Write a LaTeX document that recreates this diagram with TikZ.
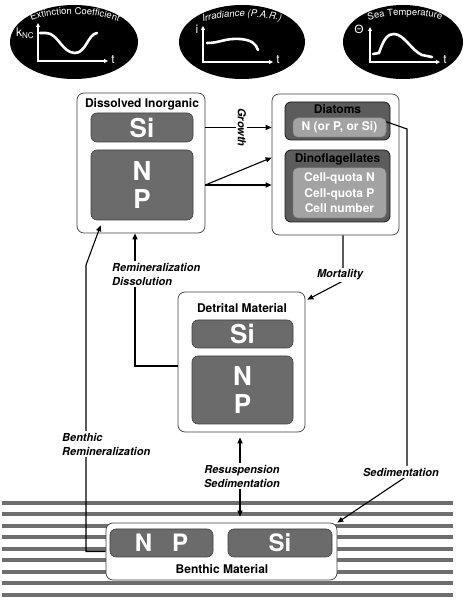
\documentclass[tikz,border=0pt]{standalone}
\usepackage{fontspec}
\setmainfont{TeX Gyre Heros}
\newfontfamily\dgGreek{Liberation Sans}
\usetikzlibrary{arrows.meta,decorations.text,calc}
\definecolor{nutgray}{HTML}{6B6B6B}
\definecolor{phygray}{HTML}{5C5C5C}
\definecolor{ingray}{HTML}{A3A3A3}
\definecolor{stripegray}{HTML}{6E6E6E}
\newcommand\dgTitle{\bfseries\fontsize{12}{15.5}\selectfont}
\newcommand\dgNut{\bfseries\fontsize{26}{28}\selectfont}
\newcommand\dgNutS{\bfseries\fontsize{24}{28}\selectfont}
\newcommand\dgLab{\bfseries\itshape\fontsize{11}{14}\selectfont}
\newcommand\dgAx{\fontsize{12}{12}\selectfont}
\newcommand\dgEll{\fontsize{9.5}{9.5}\selectfont}
\begin{document}
\begin{tikzpicture}[x=1pt,y=1pt,
  outerbox/.style={draw=black!75, line width=0.7pt, fill=white, rounded corners=7pt, inner sep=0pt},
  nutbox/.style={draw=black!75, line width=0.6pt, fill=nutgray, rounded corners=6pt, inner sep=0pt, text=white, font=\dgNut, align=center},
  phybox/.style={draw=black!90, line width=0.8pt, fill=phygray, rounded corners=6pt, inner sep=0pt},
  inbox/.style={draw=black!45, line width=0.5pt, fill=ingray, rounded corners=5pt, inner sep=0pt, text=white, font=\dgTitle, align=center},
  ttl/.style={font=\dgTitle, inner sep=0pt},
  flow/.style={line width=1.1pt, -{Triangle[length=6pt,width=5pt]}},
  flowlab/.style={font=\dgLab, fill=white, inner sep=1.5pt, align=left},
  axes/.style={white, line width=1.6pt, {Triangle[length=4pt,width=4pt]}-{Triangle[length=4pt,width=4pt]}},
  curve/.style={white, line width=2.6pt, line cap=round},
  axlab/.style={text=white, font=\dgAx, inner sep=0pt},
  stripe/.style={draw=stripegray, line width=4pt}]
\useasboundingbox (0,0) rectangle (474,600);

% ---------- forcing ellipses ----------
\fill[black] (74,558) ellipse [x radius=64pt, y radius=37pt];
\fill[black] (242,558) ellipse [x radius=63pt, y radius=37pt];
\fill[black] (403,558) ellipse [x radius=60pt, y radius=37pt];

\path[decorate, decoration={text along path, text align=center,
  text={|\color{white}\dgEll|Extinction Coefficient}}]
  (22,574) .. controls (44,590) and (104,590) .. (128,573);
\path[decorate, decoration={text along path, text align=center,
  text={|\color{white}\dgEll\itshape|Irradiance (P.A.R.)}}]
  (196,576) .. controls (222,585) and (262,586) .. (288,577);
\path[decorate, decoration={text along path, text align=center,
  text={|\color{white}\dgEll|Sea Temperature}}]
  (360,577) .. controls (385,587) and (425,587) .. (450,578);

\draw[axes] (38,577) -- (38,539) -- (108,539);
\draw[curve] (40,567) -- (46,567) .. controls (58,567) and (62,547) .. (75,547) .. controls (86,547) and (88,566) .. (97,567);
\node[axlab] (t1) at (113,540) {t};
\node[axlab] (k1) at (25,567) {k\raisebox{-2.5pt}{\fontsize{8}{8}\selectfont NC}};

\draw[axes] (203,574) -- (203,538) -- (273,538);
\draw[curve] (207,557) .. controls (220,557) and (225,562) .. (240,561) .. controls (252,560) and (256,556) .. (258,550);
\node[axlab] (t2) at (278,540) {t};
\node[axlab] (i2) at (197,571) {i};

\draw[axes] (370,573) -- (370,538) -- (440,538);
\draw[curve] (373,546) -- (379,547) .. controls (384,562) and (388,566) .. (394,566) .. controls (404,566) and (412,549) .. (422,545) -- (432,543);
\node[axlab] (t3) at (445,540) {t};
\node[axlab] (th3) at (359,571) {\dgGreek Θ};

% ---------- sediment stripes ----------
\foreach \k in {0,...,8}
  \draw[stripe] (2,{97-11.5*\k}) -- (453,{97-11.5*\k});

% ---------- Dissolved inorganic ----------
\node[outerbox, minimum width=128pt, minimum height=140pt] (DI) at (141,437) {};
\node[ttl] (DItitle) at (142,496) {Dissolved Inorganic};
\node[nutbox, minimum width=102pt, minimum height=29pt] (dSi) at (142,472.5) {Si};
\node[nutbox, minimum width=102pt, minimum height=70pt] (dNP) at (142,415) {N\\P};

% ---------- Phytoplankton ----------
\node[outerbox, minimum width=127pt, minimum height=141pt] (phy) at (335.5,435.5) {};
\node[phybox, minimum width=105pt, minimum height=38pt] (dia) at (337.5,479) {};
\node[ttl] (diatitle) at (337.5,490.5) {Diatoms};
\node[inbox, minimum width=93pt, minimum height=19pt] (diain) at (339.5,472.5) {N (or P, or Si)};
\node[phybox, minimum width=105pt, minimum height=72pt] (dino) at (337.5,414) {};
\node[ttl] (dinotitle) at (337.5,440.5) {Dinoflagellates};
\node[inbox, minimum width=93pt, minimum height=50pt] (dinoin) at (339.5,407) {Cell-quota N\\Cell-quota P\\Cell number};

% ---------- Detrital ----------
\node[outerbox, minimum width=127pt, minimum height=140pt] (det) at (241.5,238) {};
\node[ttl] (dettitle) at (242,292) {Detrital Material};
\node[nutbox, minimum width=101pt, minimum height=28pt] (detSi) at (242.5,266) {Si};
\node[nutbox, minimum width=101pt, minimum height=68pt] (detNP) at (242.5,210) {N\\P};

% ---------- Benthic ----------
\node[outerbox, minimum width=231pt, minimum height=57pt] (ben) at (221.5,48.5) {};
\node[nutbox, font=\dgNutS, minimum width=103pt, minimum height=28pt] (benNP) at (161.5,57) {N\hspace{20pt}P};
\node[nutbox, font=\dgNutS, minimum width=104pt, minimum height=28pt] (benSi) at (280,57) {Si};
\node[ttl] (bentitle) at (222,31) {Benthic Material};

% ---------- flows ----------
\draw[flow] (DI.east |- dSi) -- (phy.west |- dSi)
  node[pos=0.55, rotate=-90, font=\dgLab, fill=white, inner sep=1.5pt] (growlab) {Growth};
\coordinate (npout) at (DI.east |- dNP.center);
\draw[flow] (npout) -- (phy.west |- npout);
\draw[flow] (npout) -- ($(phy.west |- dino.north)+(0,-8)$);

\draw[flow] (phy.south -| 343,0) -- (343,319) -- ($(det.north east)+(2,-8)$);
\draw[flow] ($(det.west)+(0,-4)$) -| ($(DI.south)+(-6,0)$);
\draw[flow] (ben.west) -| (86,335) -- ($(dNP.south west)+(10,-5)$);
\draw[flow] ($(diain.north east)+(0,-4)$) -- (407,471) -- (407,124) -- (ben.north east);
\draw[line width=1.1pt, {Triangle[length=6pt,width=5pt]}-{Triangle[length=6pt,width=5pt]}]
  ($(det.south)+(-1.5,-5)$) -- ($(det.south |- ben.north)+(-1.5,6)$);

% ---------- flow labels ----------
\node[flowlab] (mortlab) at (340,325) {Mortality};
\node[flowlab, anchor=west] (remlab) at (110.5,326) {Remineralization\\Dissolution};
\node[flowlab, anchor=west] (benlab) at (60.5,156) {Benthic\\Remineralization};
\node[flowlab, align=center] (reslab) at (242,124) {Resuspension\\Sedimentation};
\node[flowlab] (sedlab) at (401,128) {Sedimentation};
\end{tikzpicture}
\end{document}
